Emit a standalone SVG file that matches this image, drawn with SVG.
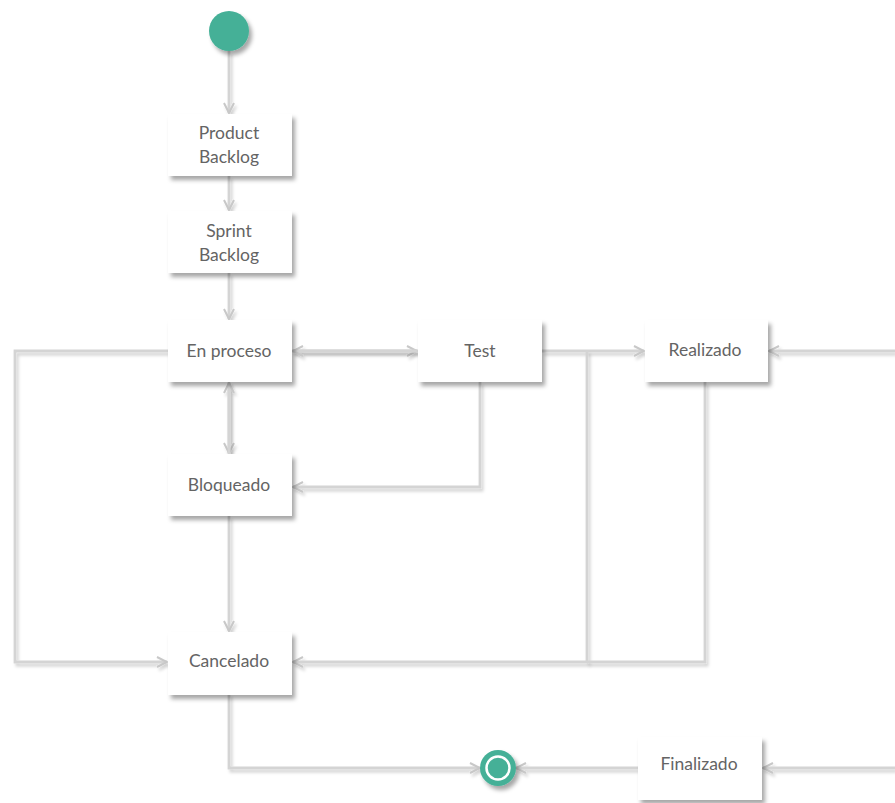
<svg xmlns="http://www.w3.org/2000/svg" width="895" height="803" viewBox="0 0 895 803">
  <defs>
    <filter id="boxShadow" x="-20%" y="-20%" width="140%" height="150%">
      <feDropShadow dx="3" dy="4" stdDeviation="2" flood-color="#000" flood-opacity="0.35"/>
    </filter>
    <!-- user-space region so straight (zero-width) paths still render -->
    <filter id="lineShadow" filterUnits="userSpaceOnUse" x="0" y="0" width="895" height="803">
      <feDropShadow dx="2" dy="3" stdDeviation="1.5" flood-color="#000" flood-opacity="0.18"/>
    </filter>
    <marker id="arrow" viewBox="0 0 12 12" refX="11" refY="6" markerWidth="12" markerHeight="12" markerUnits="userSpaceOnUse" orient="auto">
      <path d="M1,1 L11,6 L1,11" fill="none" stroke="#c8c8c8" stroke-width="2"/>
    </marker>
  </defs>
  <style>
    .node rect { fill: #ffffff; filter: url(#boxShadow); }
    .node text { font-family: Lato, "Noto Sans", "Liberation Sans", sans-serif; font-size: 17.5px; fill: #646464; text-anchor: middle; }
    .conn { fill: none; stroke: #d4d4d4; stroke-width: 2.8; filter: url(#lineShadow); }
    .arr { marker-end: url(#arrow); }
    .start, .end { fill: #45b097; filter: url(#boxShadow); }
  </style>

  <rect width="895" height="803" fill="#ffffff"/>

  <g id="connectors">
    <path class="conn arr" d="M229,51 L229,113"/>
    <path class="conn arr" d="M229,176 L229,210"/>
    <path class="conn arr" d="M229,273 L229,319"/>
    <path class="conn arr" d="M292,351 L417,351"/>
    <path class="conn arr" d="M418,351 L293,351"/>
    <path class="conn arr" d="M542,351 L644,351"/>
    <path class="conn arr" d="M229,382 L229,453"/>
    <path class="conn arr" d="M229,454 L229,383"/>
    <path class="conn arr" d="M480,382 L480,487 L293,487"/>
    <path class="conn arr" d="M229,516 L229,631"/>
    <path class="conn arr" d="M168,351 L15,351 L15,662 L167,662"/>
    <path class="conn arr" d="M587,351 L587,662 L293,662"/>
    <path class="conn" d="M705,382 L705,662 L587,662"/>
    <path class="conn arr" d="M895,351 L769,351"/>
    <path class="conn arr" d="M895,768 L763,768"/>
    <path class="conn arr" d="M638,768 L516,768"/>
    <path class="conn arr" d="M229,694 L229,768 L480,768"/>
  </g>

  <g id="start">
    <circle class="start" cx="229" cy="31" r="20"/>
  </g>

  <g id="product-backlog" class="node">
    <rect x="168" y="114" width="124" height="62"/>
    <text x="229" y="139">Product</text>
    <text x="229" y="163">Backlog</text>
  </g>

  <g id="sprint-backlog" class="node">
    <rect x="168" y="211" width="124" height="62"/>
    <text x="229" y="237">Sprint</text>
    <text x="229" y="261">Backlog</text>
  </g>

  <g id="en-proceso" class="node">
    <rect x="168" y="320" width="124" height="62"/>
    <text x="229" y="357">En proceso</text>
  </g>

  <g id="test" class="node">
    <rect x="418" y="320" width="124" height="62"/>
    <text x="480" y="357">Test</text>
  </g>

  <g id="realizado" class="node">
    <rect x="645" y="320" width="123" height="62"/>
    <text x="705" y="356">Realizado</text>
  </g>

  <g id="bloqueado" class="node">
    <rect x="168" y="454" width="124" height="62"/>
    <text x="229" y="491">Bloqueado</text>
  </g>

  <g id="cancelado" class="node">
    <rect x="168" y="632" width="124" height="63"/>
    <text x="229" y="667">Cancelado</text>
  </g>

  <g id="finalizado" class="node">
    <rect x="638" y="737" width="124" height="63"/>
    <text x="699" y="770">Finalizado</text>
  </g>

  <g id="end">
    <circle class="end" cx="498" cy="768" r="18"/>
    <circle cx="498" cy="768" r="11.5" fill="none" stroke="#ffffff" stroke-width="2.5"/>
  </g>
</svg>
